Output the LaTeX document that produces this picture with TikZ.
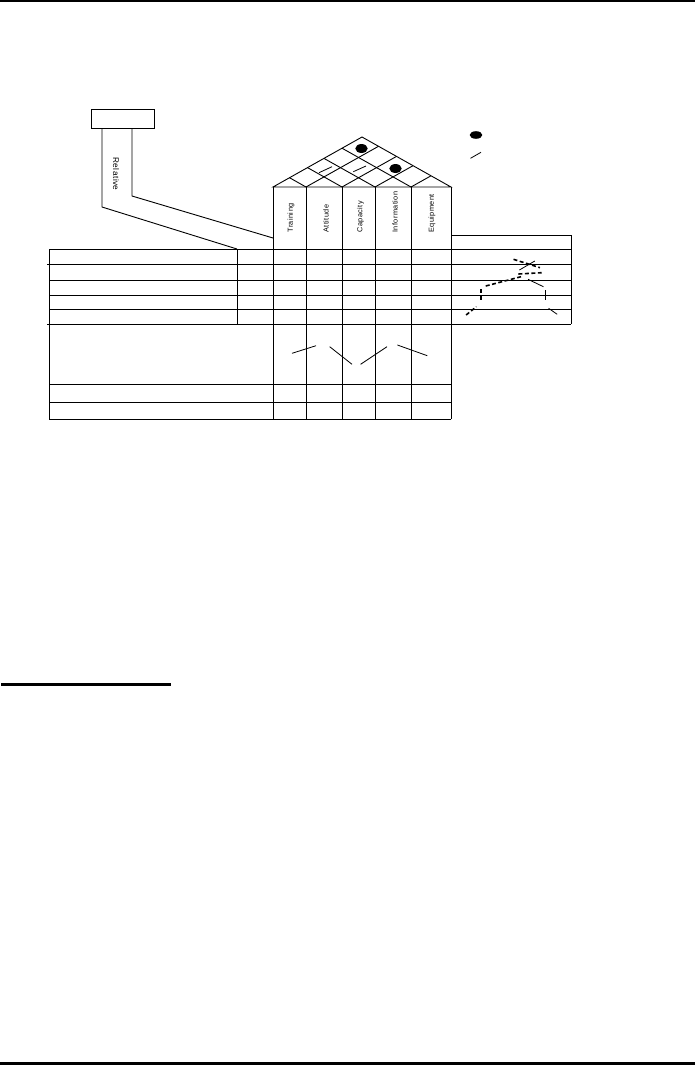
\documentclass[tikz,border=0pt]{standalone}
\usepackage{fontspec}
\setmainfont{Liberation Sans}
\newfontfamily\labelfont[LetterSpace=6]{Liberation Sans}
\begin{document}
\begin{tikzpicture}[x=1pt, y=-1pt, line width=0.9pt]
\tikzstyle{label_style} = [inner sep=0pt, font=\labelfont\fontsize{7.3}{8}\selectfont]
\tikzstyle{rel_style} = [inner sep=0pt, font=\labelfont\fontsize{8.2}{10}\selectfont]
\tikzstyle{dash_style} = [draw=black, line width=1.6pt, dash pattern=on 4pt off 2.5pt]
\tikzstyle{thin_style} = [draw=black, line width=0.8pt]
\tikzstyle{dot_style} = [fill=black]

\useasboundingbox (0,0) rectangle (695,1066);

% page rules
\draw[line width=2.2pt] (0,1) -- (695,1);
\draw[line width=3pt] (0,1063.5) -- (695,1063.5);
\draw[line width=2.5pt] (1,684.7) -- (171,684.7);

% relative box and its leg
\draw (91,109) rectangle (154,128);
\draw (102,128) -- (102,207) -- (237,249);
\draw (132,128) -- (132,196) -- (273,238);
\node[rel_style, rotate=-90] (rel) at (116,174) {Relative};

% roof
\draw (273,187) -- (362,137) -- (451,187) -- cycle;
\draw (306,187) -- (378.5,146.3);
\draw (342,187) -- (396.5,156.4);
\draw (375,187) -- (413,165.7);
\draw (411,187) -- (431,175.8);
\draw (306,187) -- (289.5,177.7);
\draw (342,187) -- (307.5,167.6);
\draw (375,187) -- (324,158.4);
\draw (411,187) -- (342,148.2);
\fill[dot_style] (361.5,148.5) ellipse (6.2pt and 4.5pt);
\fill[dot_style] (395.5,168.5) ellipse (6.2pt and 4.5pt);
\draw[thin_style] (319,172.7) -- (332,166.7);
\draw[thin_style] (353.3,171.7) -- (366,166);

% legend
\fill[dot_style] (476,135) ellipse (6.3pt and 3.8pt);
\draw[thin_style] (470.5,158.3) -- (481,152.3);

% columns
\foreach \x in {273,306,342,375,411,451}
  \draw (\x,187) -- (\x,419);
\node[label_style, rotate=90, anchor=west] (c1) at (291,233) {Training};
\node[label_style, rotate=90, anchor=west] (c2) at (326,233) {Attitude};
\node[label_style, rotate=90, anchor=west] (c3) at (360.5,233) {Capacity};
\node[label_style, rotate=90, anchor=west] (c4) at (395,233) {Information};
\node[label_style, rotate=90, anchor=west] (c5) at (432,233) {Equipment};

% table
\foreach \y in {249,280,295,309}
  \draw (49,\y) -- (571,\y);
\foreach \y in {264,324}
  \draw (47,\y) -- (571,\y);
\draw (451,235) -- (571,235) -- (571,324);
\draw (49,249) -- (49,419);
\draw (237,249) -- (237,324);
\foreach \y in {384,402,419}
  \draw (49,\y) -- (451,\y);

% lower marks
\draw[thin_style] (292,353.3) -- (316,345.7);
\draw[thin_style] (329.7,346.7) -- (352,364.3);
\draw[thin_style] (360.6,364.3) -- (387,346.7);
\draw[thin_style] (397.4,345) -- (427.3,355.7);

% trend sketch
\draw[dash_style] (513.5,259.3) -- (540,267.7);
\draw[thin_style] (534.8,261) -- (519.4,270);
\draw[dash_style] (518.4,274) -- (541.7,272.7);
\draw[dash_style] (485.7,286) -- (521,276.7);
\draw[thin_style] (528,279.3) -- (543.4,286.7);
\draw[dash_style] (480.9,289.3) -- (480.9,300);
\draw[thin_style] (545.2,290) -- (545.2,300);
\draw[dash_style] (466.1,315) -- (476.4,306.7);
\draw[thin_style] (548.6,308.3) -- (557.2,314.3);
\end{tikzpicture}
\end{document}
